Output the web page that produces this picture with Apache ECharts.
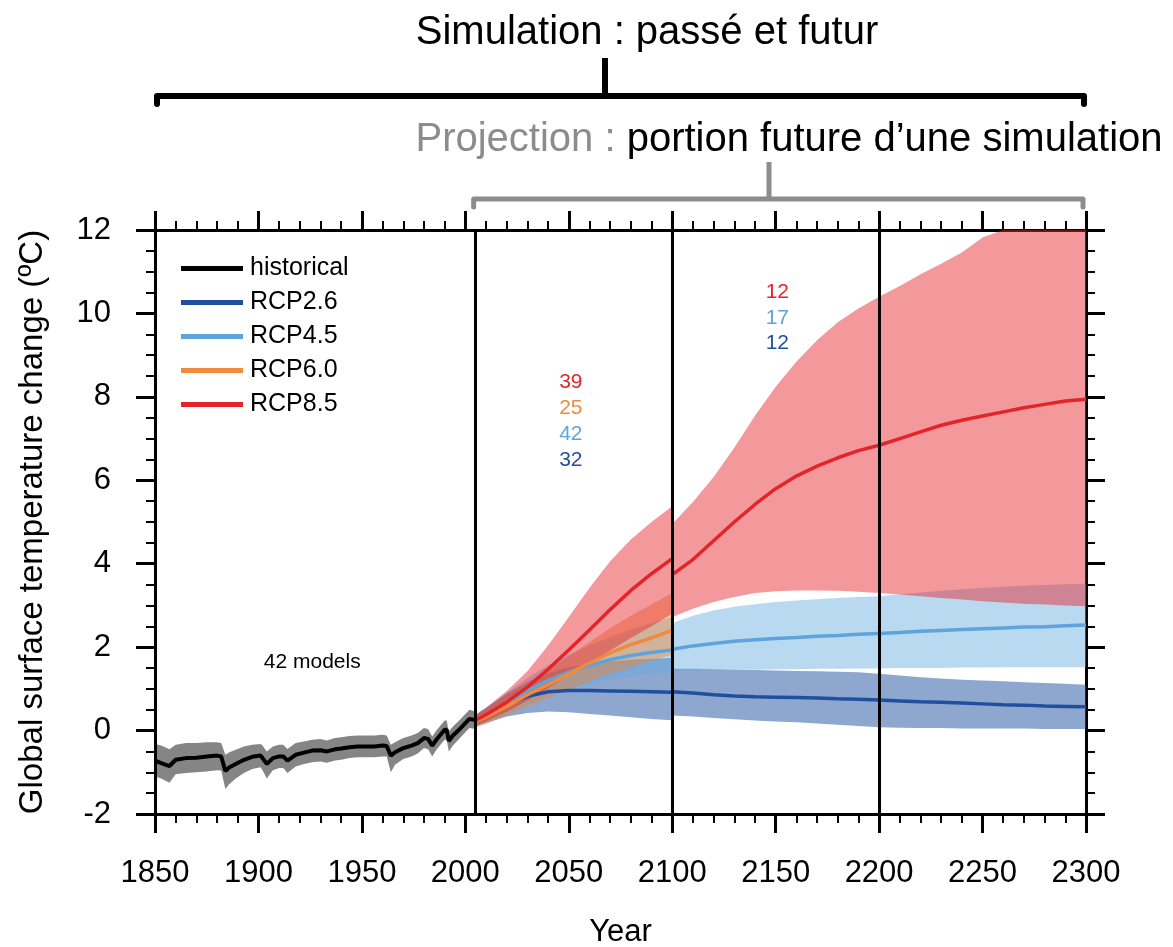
<!DOCTYPE html>
<html>
<head>
<meta charset="utf-8">
<script src="https://cdn.jsdelivr.net/npm/echarts@6/dist/echarts.min.js"></script>
<style>
  html, body { margin: 0; padding: 0; background: #ffffff; }
  #chart { width: 1173px; height: 947px; }
</style>
</head>
<body>
<div id="chart"></div>
<script>
// ---- Historical multi-model mean and spread (°C) ----
const histYears = [1850,1853,1857,1860,1865,1870,1875,1880,1882,1884,1886,1889,1893,1897,1901,1902,1904,1907,1910,1912,1914,1918,1922,1926,1930,1933,1937,1940,1944,1948,1952,1956,1960,1962,1964,1966,1970,1974,1977,1980,1982,1984,1986,1988,1990,1991,1992,1994,1997,2000,2002,2005];
const histMean  = [-0.72,-0.78,-0.85,-0.70,-0.66,-0.65,-0.62,-0.60,-0.62,-0.97,-0.88,-0.80,-0.70,-0.63,-0.60,-0.66,-0.80,-0.66,-0.62,-0.62,-0.72,-0.58,-0.53,-0.48,-0.47,-0.50,-0.45,-0.43,-0.40,-0.38,-0.38,-0.38,-0.36,-0.37,-0.60,-0.52,-0.42,-0.36,-0.30,-0.18,-0.20,-0.36,-0.22,-0.10,0.02,0.02,-0.25,-0.12,0.02,0.18,0.28,0.25];
const histHigh  = [-0.32,-0.36,-0.45,-0.34,-0.30,-0.30,-0.28,-0.28,-0.30,-0.58,-0.52,-0.46,-0.38,-0.34,-0.32,-0.36,-0.50,-0.38,-0.34,-0.34,-0.44,-0.30,-0.26,-0.22,-0.20,-0.24,-0.18,-0.16,-0.13,-0.12,-0.12,-0.12,-0.10,-0.12,-0.34,-0.28,-0.18,-0.12,-0.06,0.06,0.04,-0.14,0.00,0.12,0.24,0.24,-0.02,0.10,0.24,0.40,0.50,0.46];
const histLow   = [-1.10,-1.15,-1.25,-1.05,-1.02,-1.00,-0.98,-0.95,-0.96,-1.40,-1.28,-1.15,-1.02,-0.92,-0.88,-0.95,-1.15,-0.95,-0.90,-0.90,-1.02,-0.86,-0.80,-0.76,-0.74,-0.77,-0.72,-0.70,-0.66,-0.64,-0.64,-0.64,-0.62,-0.62,-1.00,-0.82,-0.68,-0.62,-0.55,-0.42,-0.45,-0.62,-0.46,-0.34,-0.22,-0.22,-0.50,-0.36,-0.20,-0.04,0.06,0.04];

// ---- Projections 2005-2100 ----
const yearsTo2100 = [2005,2010,2020,2030,2040,2050,2060,2070,2080,2090,2100];
const rcp26MeanA = [0.24,0.36,0.62,0.82,0.93,0.96,0.96,0.95,0.94,0.93,0.92];
const rcp26HighA = [0.38,0.54,0.88,1.16,1.38,1.52,1.60,1.66,1.70,1.72,1.74];
const rcp26LowA  = [0.10,0.18,0.34,0.42,0.46,0.44,0.40,0.36,0.32,0.28,0.25];
const rcp45MeanA = [0.24,0.36,0.66,0.96,1.20,1.40,1.56,1.70,1.80,1.87,1.93];
const rcp45HighA = [0.38,0.54,0.90,1.26,1.56,1.82,2.04,2.24,2.42,2.58,2.72];
const rcp45LowA  = [0.10,0.18,0.40,0.64,0.84,1.00,1.12,1.22,1.30,1.36,1.40];
const rcp60MeanA = [0.22,0.33,0.58,0.86,1.10,1.36,1.62,1.86,2.06,2.22,2.40];
const rcp60HighA = [0.36,0.50,0.82,1.14,1.45,1.78,2.12,2.45,2.75,3.02,3.30];
const rcp60LowA  = [0.08,0.16,0.36,0.58,0.78,0.98,1.18,1.36,1.52,1.68,1.82];
const rcp85MeanA = [0.25,0.38,0.68,1.04,1.47,1.93,2.41,2.90,3.36,3.76,4.12];
const rcp85HighA = [0.38,0.55,0.95,1.42,2.04,2.72,3.42,4.06,4.58,5.00,5.38];
const rcp85LowA  = [0.12,0.22,0.45,0.72,1.02,1.32,1.62,1.92,2.22,2.50,2.80];

// ---- Extensions 2100-2300 ----
const yearsTo2300 = [2100,2110,2120,2130,2140,2150,2160,2170,2180,2190,2200,2210,2220,2230,2240,2250,2260,2270,2280,2290,2300];
const rcp26MeanB = [0.93,0.90,0.86,0.83,0.81,0.80,0.79,0.78,0.76,0.75,0.73,0.71,0.69,0.68,0.66,0.64,0.62,0.61,0.59,0.58,0.57];
const rcp26HighB = [1.48,1.48,1.47,1.46,1.45,1.44,1.43,1.42,1.41,1.40,1.36,1.32,1.28,1.25,1.22,1.20,1.18,1.16,1.14,1.12,1.10];
const rcp26LowB  = [0.36,0.34,0.30,0.27,0.24,0.22,0.20,0.17,0.14,0.11,0.08,0.07,0.06,0.06,0.05,0.05,0.05,0.05,0.04,0.04,0.04];
const rcp45MeanB = [1.95,2.03,2.09,2.14,2.18,2.21,2.23,2.26,2.28,2.31,2.33,2.35,2.38,2.40,2.42,2.44,2.46,2.48,2.49,2.51,2.53];
const rcp45HighB = [2.58,2.75,2.88,2.97,3.03,3.08,3.12,3.15,3.18,3.20,3.22,3.27,3.31,3.35,3.39,3.42,3.45,3.47,3.49,3.51,3.52];
const rcp45LowB  = [1.42,1.44,1.45,1.46,1.46,1.47,1.47,1.48,1.48,1.49,1.49,1.50,1.50,1.50,1.51,1.51,1.52,1.52,1.52,1.52,1.52];
const rcp85MeanB = [3.74,4.10,4.55,5.00,5.42,5.80,6.10,6.34,6.54,6.71,6.84,7.00,7.16,7.32,7.44,7.54,7.64,7.74,7.82,7.90,7.94];
const rcp85HighB = [4.95,5.48,6.08,6.78,7.55,8.24,8.84,9.36,9.79,10.12,10.40,10.66,10.94,11.19,11.46,11.82,12.10,12.35,12.55,12.75,12.90];
const rcp85LowB  = [2.72,2.92,3.08,3.20,3.30,3.34,3.36,3.36,3.35,3.33,3.30,3.26,3.22,3.18,3.14,3.10,3.07,3.04,3.02,3.00,2.98];

// ---- Model counts per scenario ----
const countNames2100 = ['RCP8.5','RCP6.0','RCP4.5','RCP2.6'];
const counts2100     = [39, 25, 42, 32];
const countNames2300 = ['RCP8.5','RCP4.5','RCP2.6'];
const counts2300     = [12, 17, 12];
const modelCountHist = 42;

// Period boundaries drawn as vertical rules
const dividerYears = [2005, 2100, 2200];

const colors = {
  'historical': '#000000',
  'RCP2.6': '#1f509f',
  'RCP4.5': '#5ea3dc',
  'RCP6.0': '#f08a3c',
  'RCP8.5': '#e3242b'
};
const shades = {
  'historical': 'rgba(0,0,0,0.48)',
  'RCP2.6': 'rgba(30,80,160,0.5)',
  'RCP4.5': 'rgba(100,170,225,0.45)',
  'RCP6.0': 'rgba(240,130,50,0.45)',
  'RCP8.5': 'rgba(230,40,45,0.48)'
};
const FONT = '"Liberation Sans", Arial, Helvetica, sans-serif';

function pairs(xs, ys) { return xs.map((x, i) => [x, ys[i]]); }
function triples(xs, lo, hi) { return xs.map((x, i) => [x, lo[i], hi[i]]); }

// Shaded spread drawn as one polygon through the axis scales
function bandSeries(name, xs, lo, hi, fill) {
  const pts = triples(xs, lo, hi);
  return {
    type: 'custom',
    name: name,
    z: 1,
    silent: true,
    data: pts,
    encode: { x: 0, y: [1, 2] },
    renderItem: function (params, api) {
      if (params.dataIndex !== 0) return null;
      const upper = pts.map(p => api.coord([p[0], p[2]]));
      const lower = pts.map(p => api.coord([p[0], p[1]])).reverse();
      const cs = params.coordSys;
      const poly = echarts.graphic.clipPointsByRect(upper.concat(lower), {
        x: cs.x, y: cs.y, width: cs.width, height: cs.height
      });
      return { type: 'polygon', shape: { points: poly }, style: { fill: fill } };
    }
  };
}

function lineSeries(name, xs, ys, width) {
  return {
    type: 'line',
    name: name,
    z: 3,
    data: pairs(xs, ys),
    showSymbol: false,
    symbol: 'none',
    silent: true,
    color: colors[name],
    itemStyle: { color: colors[name] },
    lineStyle: { color: colors[name], width: width || 3.5 }
  };
}

const series = [
  bandSeries('historical range', histYears, histLow, histHigh, shades['historical']),
  bandSeries('RCP2.6 range A', yearsTo2100, rcp26LowA, rcp26HighA, shades['RCP2.6']),
  bandSeries('RCP4.5 range A', yearsTo2100, rcp45LowA, rcp45HighA, shades['RCP4.5']),
  bandSeries('RCP6.0 range A', yearsTo2100, rcp60LowA, rcp60HighA, shades['RCP6.0']),
  bandSeries('RCP8.5 range A', yearsTo2100, rcp85LowA, rcp85HighA, shades['RCP8.5']),
  bandSeries('RCP2.6 range B', yearsTo2300, rcp26LowB, rcp26HighB, shades['RCP2.6']),
  bandSeries('RCP4.5 range B', yearsTo2300, rcp45LowB, rcp45HighB, shades['RCP4.5']),
  bandSeries('RCP8.5 range B', yearsTo2300, rcp85LowB, rcp85HighB, shades['RCP8.5']),
  lineSeries('historical', histYears, histMean, 4),
  lineSeries('RCP2.6', yearsTo2100, rcp26MeanA),
  lineSeries('RCP4.5', yearsTo2100, rcp45MeanA),
  lineSeries('RCP6.0', yearsTo2100, rcp60MeanA),
  lineSeries('RCP8.5', yearsTo2100, rcp85MeanA),
  lineSeries('RCP2.6', yearsTo2300, rcp26MeanB),
  lineSeries('RCP4.5', yearsTo2300, rcp45MeanB),
  lineSeries('RCP8.5', yearsTo2300, rcp85MeanB)
];
series[series.length - 1].markLine = {
  silent: true,
  symbol: ['none', 'none'],
  label: { show: false },
  lineStyle: { color: '#000', width: 3, type: 'solid' },
  emphasis: { disabled: true },
  data: dividerYears.map(y => ({ xAxis: y }))
};

function xAxisDef(pos, showLabels) {
  return {
    type: 'value', position: pos, min: 1850, max: 2300, interval: 50,
    splitLine: { show: false },
    axisLine: { show: true, onZero: false, lineStyle: { color: '#000', width: 3 } },
    axisTick: { show: true, length: 19, lineStyle: { color: '#000', width: 3 } },
    minorTick: { show: true, splitNumber: 5, length: 9, lineStyle: { color: '#000', width: 2 } },
    minorSplitLine: { show: false },
    axisLabel: { show: showLabels, color: '#000', fontSize: 31, fontFamily: FONT, margin: 44,
                 formatter: v => String(v) },
    name: showLabels ? 'Year' : '',
    nameLocation: 'middle', nameGap: 103,
    nameTextStyle: { color: '#000', fontSize: 31, fontFamily: FONT }
  };
}
function yAxisDef(pos, showLabels) {
  return {
    type: 'value', position: pos, min: -2, max: 12, interval: 2,
    splitLine: { show: false },
    axisLine: { show: true, onZero: false, lineStyle: { color: '#000', width: 3 } },
    axisTick: { show: true, length: 19, lineStyle: { color: '#000', width: 3 } },
    minorTick: { show: true, splitNumber: 4, length: 9, lineStyle: { color: '#000', width: 2 } },
    minorSplitLine: { show: false },
    axisLabel: { show: showLabels, color: '#000', fontSize: 31, fontFamily: FONT, margin: 44,
                 formatter: v => String(v) },
    name: showLabels ? 'Global surface temperature change (ºC)' : '',
    nameLocation: 'middle', nameGap: 106, nameRotate: 90,
    nameTextStyle: { color: '#000', fontSize: 33, fontFamily: FONT }
  };
}

const chart = echarts.init(document.getElementById('chart'), null, { renderer: 'canvas' });
chart.setOption({
  backgroundColor: '#ffffff',
  animation: false,
  grid: { left: 155, right: 87, top: 230, bottom: 133, outerBoundsMode: 'none', containLabel: false },
  xAxis: [xAxisDef('bottom', true), xAxisDef('top', false)],
  yAxis: [yAxisDef('left', true), yAxisDef('right', false)],
  legend: {
    data: ['historical', 'RCP2.6', 'RCP4.5', 'RCP6.0', 'RCP8.5'],
    orient: 'vertical', left: 176, top: 251,
    icon: 'rect', itemWidth: 62, itemHeight: 5, itemGap: 9,
    selectedMode: false,
    textStyle: { color: '#000', fontSize: 25, fontFamily: FONT, lineHeight: 25, padding: [0, 0, 0, 2] }
  },
  series: series
});

// Annotations: model counts, header brackets and captions
const px = (year, val) => chart.convertToPixel({ xAxisIndex: 0, yAxisIndex: 0 }, [year, val]);
const graphics = [];
const a1 = px(2051, 8.34);
countNames2100.forEach((n, i) => graphics.push({
  type: 'text', x: a1[0], y: a1[1] + i * 25.8,
  style: { text: String(counts2100[i]), fill: colors[n], font: '21px ' + FONT, textAlign: 'center', textVerticalAlign: 'middle' }
}));
const a2 = px(2150.8, 10.5);
countNames2300.forEach((n, i) => graphics.push({
  type: 'text', x: a2[0], y: a2[1] + i * 25.5,
  style: { text: String(counts2300[i]), fill: colors[n], font: '21px ' + FONT, textAlign: 'center', textVerticalAlign: 'middle' }
}));
const a3 = px(1926, 1.63);
graphics.push({
  type: 'text', x: a3[0], y: a3[1],
  style: { text: modelCountHist + ' models', fill: '#000', font: '21px ' + FONT, textAlign: 'center', textVerticalAlign: 'middle' }
});

const xStart = px(1850, 0)[0], xEnd = px(2300, 0)[0], xProj = px(2005, 0)[0];
graphics.push({
  type: 'polyline', shape: { points: [[xStart + 2, 104], [xStart + 2, 96], [xEnd - 2, 96], [xEnd - 2, 104]] },
  style: { stroke: '#000', lineWidth: 6, fill: null, lineJoin: 'round', lineCap: 'round' }
});
graphics.push({
  type: 'line', shape: { x1: 605, y1: 58, x2: 605, y2: 96 },
  style: { stroke: '#000', lineWidth: 6 }
});
graphics.push({
  type: 'polyline', shape: { points: [[xProj - 2, 207], [xProj - 2, 199], [xEnd - 3, 199], [xEnd - 3, 207]] },
  style: { stroke: '#8c8c8c', lineWidth: 5, fill: null, lineJoin: 'round', lineCap: 'round' }
});
graphics.push({
  type: 'line', shape: { x1: 769, y1: 162, x2: 769, y2: 199 },
  style: { stroke: '#8c8c8c', lineWidth: 5 }
});
graphics.push({
  type: 'text', x: 647, y: 33,
  style: { text: 'Simulation : passé et futur', fill: '#000', font: '40px ' + FONT, textAlign: 'center', textVerticalAlign: 'middle' }
});
graphics.push({
  type: 'text', x: 789, y: 140,
  style: {
    text: '{g|Projection : }{b|portion future d’une simulation}',
    font: '40px ' + FONT, textAlign: 'center', textVerticalAlign: 'middle',
    rich: {
      g: { fill: '#8c8c8c', font: '40px ' + FONT },
      b: { fill: '#000000', font: '40px ' + FONT }
    }
  }
});
chart.setOption({ graphic: graphics });
</script>
</body>
</html>
